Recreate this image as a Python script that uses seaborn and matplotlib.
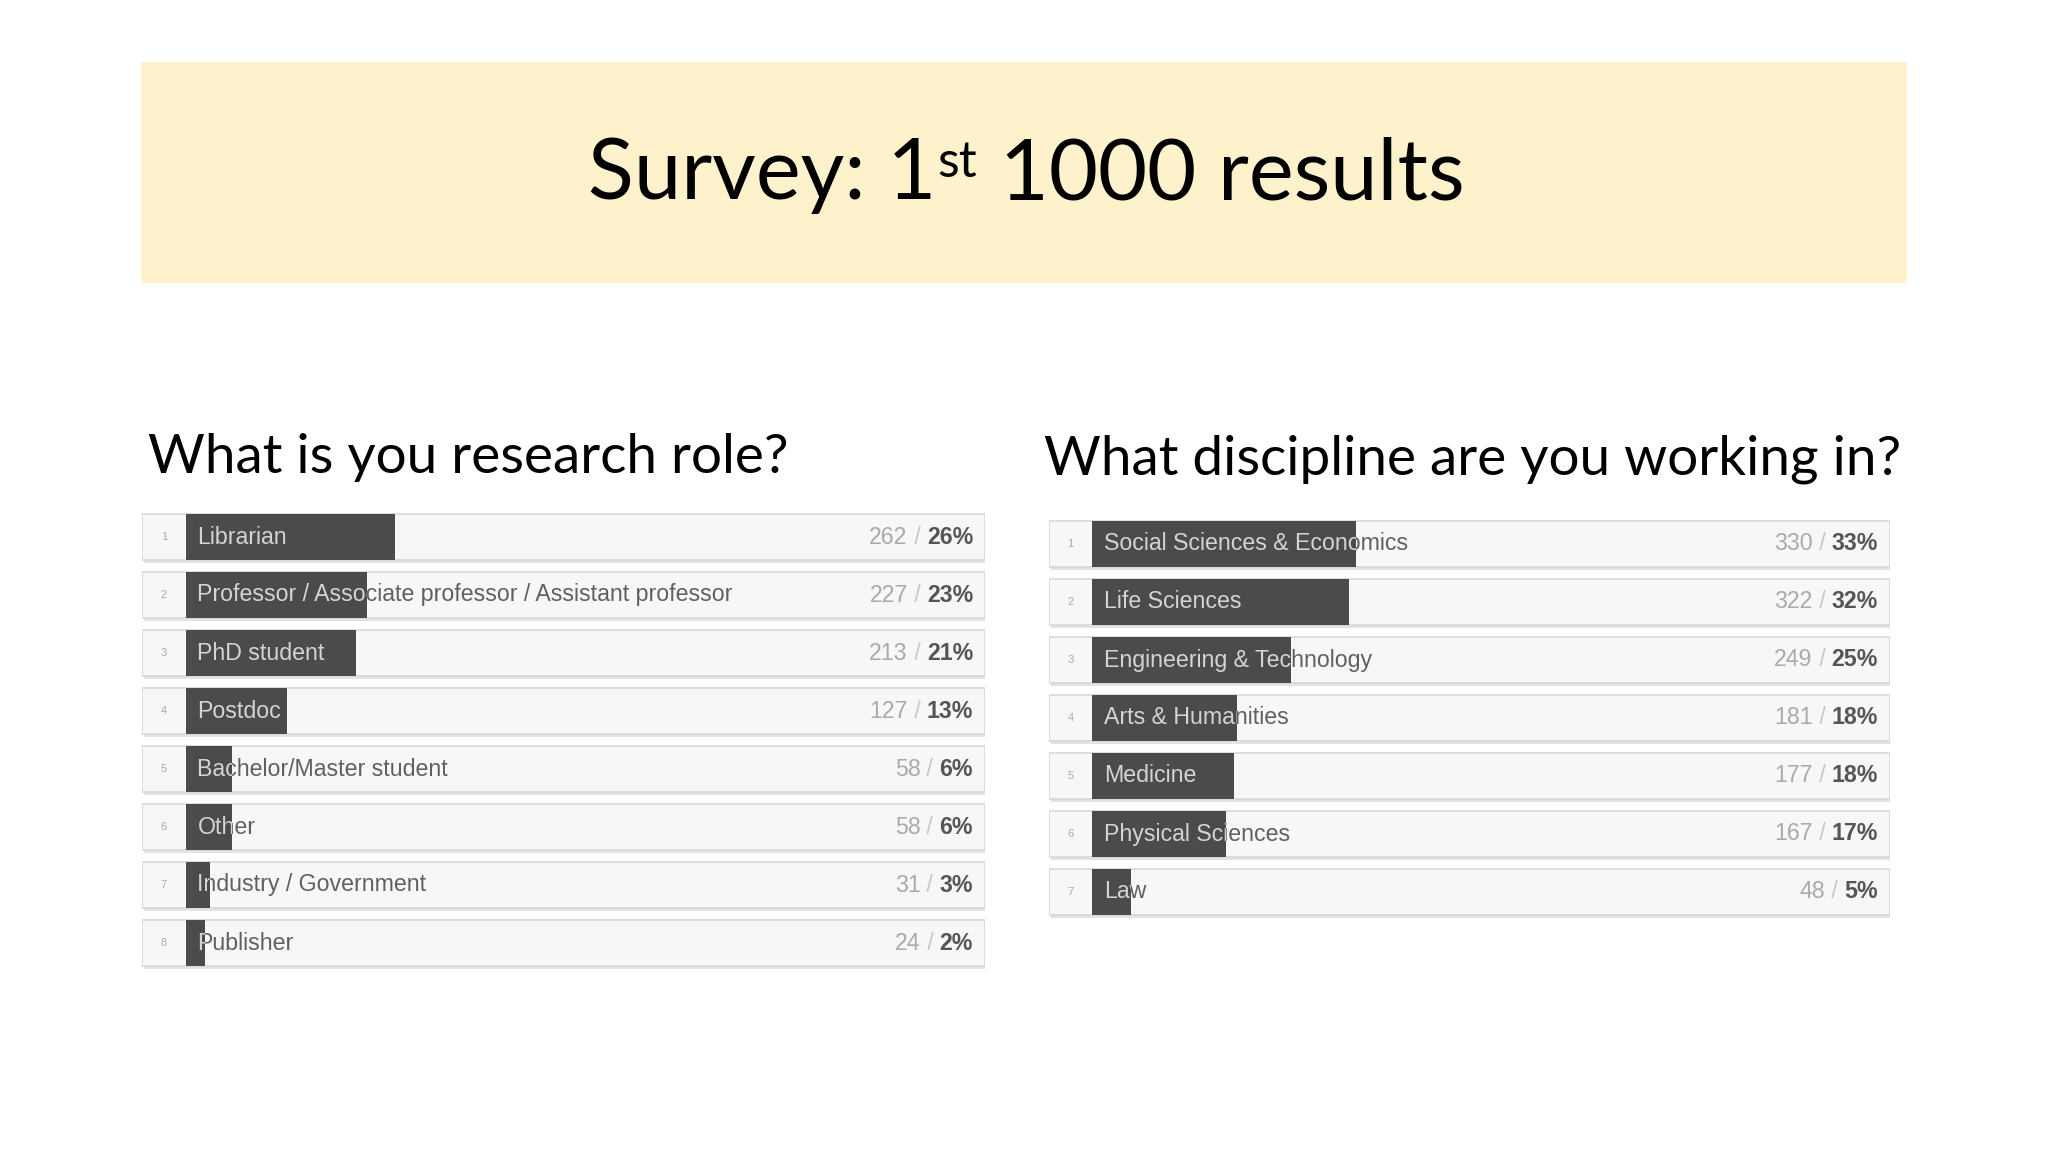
import matplotlib
matplotlib.use("Agg")
import matplotlib.pyplot as plt
from matplotlib.patches import Rectangle
import seaborn as sns
import pandas as pd

# survey answers
role_labels = ["Librarian", "Professor / Associate professor / Assistant professor",
               "PhD student", "Postdoc", "Bachelor/Master student", "Other",
               "Industry / Government", "Publisher"]
role_counts = [262, 227, 213, 127, 58, 58, 31, 24]
role_pcts = [26, 23, 21, 13, 6, 6, 3, 2]

disc_labels = ["Social Sciences & Economics", "Life Sciences", "Engineering & Technology",
               "Arts & Humanities", "Medicine", "Physical Sciences", "Law"]
disc_counts = [330, 322, 249, 181, 177, 167, 48]
disc_pcts = [33, 32, 25, 18, 18, 17, 5]

TOTAL = 1000
W, H = 2048, 1152

sns.set_theme(style="white")
plt.rcParams["font.family"] = ["Liberation Sans", "DejaVu Sans"]

fig = plt.figure(figsize=(W / 100, H / 100), dpi=100)
fig.patch.set_facecolor("white")

XMIN = -43.5 / 799.5
BAR_W = 0.79
FS = 16.7


def draw_panel(rect, labels, counts, pcts):
    ax = fig.add_axes(rect)
    df = pd.DataFrame({"label": labels, "share": [c / TOTAL for c in counts]})
    sns.barplot(data=df, x="share", y="label", orient="h", width=BAR_W,
                color="#4b4b4b", saturation=1, ax=ax, zorder=2)
    bars = list(ax.patches)
    n = len(labels)
    ax.set_xlim(XMIN, 1.0)
    ax.set_ylim(n - 0.5, -0.5)
    ax.set_axis_off()

    for i, bar in enumerate(bars):
        bar.set_edgecolor("none")
        y0 = i - BAR_W / 2
        # row track (with a faint shadow underneath)
        ax.add_patch(Rectangle((XMIN + 0.002, y0 + 0.05), 1 - XMIN, BAR_W,
                               facecolor="#e3e3e3", edgecolor="none", zorder=0))
        ax.add_patch(Rectangle((XMIN, y0), 1 - XMIN, BAR_W,
                               facecolor="#f7f7f7", edgecolor="#d8d8d8", lw=1.2, zorder=0.5))
        ax.text(XMIN / 2, i, str(i + 1), ha="center", va="center",
                fontsize=8, color="#aaaaaa", zorder=1)
        # label: grey on the track, light where the bar covers it
        ax.text(0.015, i, labels[i], ha="left", va="center",
                fontsize=FS, color="#606060", zorder=1)
        t_in = ax.text(0.015, i, labels[i], ha="left", va="center",
                       fontsize=FS, color="#d4d4d4", zorder=3)
        t_in.set_clip_path(bar)
        t_in.set_clip_on(True)
        # count / percent
        p = ax.text(0.985, i, f"{pcts[i]}%", ha="right", va="center",
                    fontsize=FS, fontweight="bold", color="#555555", zorder=1)
        s = ax.annotate(" / ", xy=(0, 0), xycoords=p, ha="right", va="bottom",
                        fontsize=FS, color="#c8c8c8", zorder=1)
        ax.annotate(str(counts[i]), xy=(0, 0), xycoords=s, ha="right", va="bottom",
                    fontsize=FS, color="#aaaaaa", zorder=1)
    return ax


draw_panel([142 / W, 1 - 972 / H, 843 / W, 464 / H], role_labels, role_counts, role_pcts)
draw_panel([1049 / W, 1 - 921 / H, 841 / W, 406 / H], disc_labels, disc_counts, disc_pcts)

# title banner
fig.patches.append(Rectangle((141 / W, 1 - 283 / H), (1907 - 141) / W, (283 - 62) / H,
                             transform=fig.transFigure, facecolor="#fef2cc",
                             edgecolor="none", zorder=0))
title_font = dict(family=["Lato", "DejaVu Sans"], weight="normal", color="black")
t1 = fig.text(588 / W, 1 - 199 / H, "Survey: 1", ha="left", va="baseline",
              fontsize=61, **title_font)
st = plt.annotate("st", xy=(1, 1), xycoords=t1, xytext=(1, -3), textcoords="offset points",
                  ha="left", va="top", fontsize=36, annotation_clip=False, **title_font)
st.remove()
fig.add_artist(st)
rest = plt.annotate(" 1000 results", xy=(1, 0), xycoords=(st, t1), ha="left", va="bottom",
                    fontsize=61, annotation_clip=False, **title_font)
rest.remove()
fig.add_artist(rest)

head_font = dict(family=["Lato", "DejaVu Sans"], color="black", fontsize=39.5)
fig.text(148 / W, 1 - 473 / H, "What is you research role?", ha="left", va="baseline", **head_font)
fig.text(1044 / W, 1 - 475 / H, "What discipline are you working in?", ha="left", va="baseline",
         **head_font)

fig.savefig("out.png", dpi=100)
